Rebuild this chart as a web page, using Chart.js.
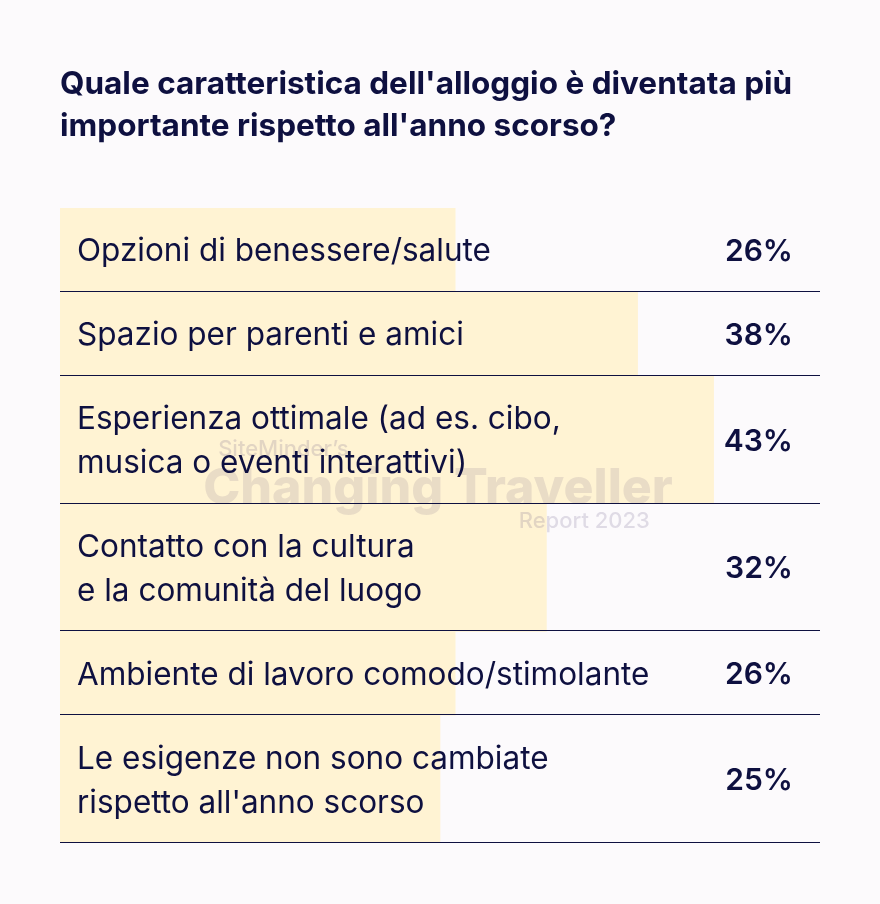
<!DOCTYPE html>
<html>
<head>
<meta charset="utf-8">
<script src="https://cdn.jsdelivr.net/npm/chart.js@4.4.1/dist/chart.umd.min.js"></script>
<style>
  html, body { margin: 0; padding: 0; background: #fcfafc; }
  canvas { display: block; }
</style>
</head>
<body>
<canvas id="chart" width="880" height="904"></canvas>
<script>
// data
const titleLines = [
  "Quale caratteristica dell'alloggio è diventata più",
  "importante rispetto all'anno scorso?",
];
const categories = [
  ["Opzioni di benessere/salute"],
  ["Spazio per parenti e amici"],
  ["Esperienza ottimale (ad es. cibo,", "musica o eventi interattivi)"],
  ["Contatto con la cultura", "e la comunità del luogo"],
  ["Ambiente di lavoro comodo/stimolante"],
  ["Le esigenze non sono cambiate", "rispetto all'anno scorso"],
];
const values = [26, 38, 43, 32, 26, 25];

const NAVY = "#0e1040";
const BAR = "#fff3d3";

// each row is 40px + 44px per text line
const rowHeights = categories.map((c) => 40 + 44 * c.length);
const bounds = [];
let acc = 0;
rowHeights.forEach((h) => { acc += h; bounds.push(acc); });
const total = acc;
const centers = rowHeights.map((h, i) => bounds[i] - h / 2);

const datasets = values.map((v, i) => ({
  label: categories[i].join(" "),
  data: [{ x: v, y: centers[i] }],
  backgroundColor: BAR,
  borderWidth: 0,
  barThickness: rowHeights[i],
  grouped: false,
}));

const rowsPlugin = {
  id: "rows",
  afterDatasetsDraw(chart) {
    const { ctx, chartArea: a, scales } = chart;
    const y = scales.y;
    ctx.save();

    // watermark
    const cx = (a.left + a.right) / 2 - 2;
    const wy = y.getPixelForValue(bounds[2]);
    ctx.textBaseline = "alphabetic";
    ctx.fillStyle = "rgba(85,67,119,0.13)";
    ctx.font = "800 50px Inter";
    ctx.textAlign = "center";
    ctx.fillText("Changing Traveller", cx, wy);
    const ww = ctx.measureText("Changing Traveller").width;
    ctx.fillStyle = "rgba(85,67,119,0.17)";
    ctx.font = "500 22px Inter";
    ctx.textAlign = "left";
    ctx.fillText("SiteMinder’s", cx - ww / 2 + 15, wy - 48);
    ctx.textAlign = "right";
    ctx.fillText("Report 2023", cx + ww / 2 - 23, wy + 24);

    // separators
    ctx.strokeStyle = NAVY;
    ctx.lineWidth = 1.2;
    bounds.forEach((b) => {
      const py = Math.round(y.getPixelForValue(b)) - 0.5;
      ctx.beginPath();
      ctx.moveTo(a.left, py);
      ctx.lineTo(a.right, py);
      ctx.stroke();
    });

    // labels and values
    ctx.fillStyle = NAVY;
    ctx.textBaseline = "middle";
    chart.data.datasets.forEach((ds, i) => {
      const bar = chart.getDatasetMeta(i).data[0];
      const lines = categories[i];
      const lh = 44;
      const top = bar.y - ((lines.length - 1) * lh) / 2 + 2;
      ctx.font = "400 31.5px Inter";
      ctx.textAlign = "left";
      lines.forEach((t, k) => ctx.fillText(t, a.left + 17, top + k * lh));
      ctx.font = "600 30px Inter";
      ctx.textAlign = "right";
      ctx.fillText(values[i] + "%", a.right - 27, bar.y + 2);
    });
    ctx.restore();
  },
};

Chart.defaults.font.family = "Inter";

new Chart(document.getElementById("chart"), {
  type: "bar",
  data: { datasets },
  options: {
    indexAxis: "y",
    responsive: false,
    animation: false,
    layout: { padding: { left: 60, right: 60, top: 0, bottom: 61 } },
    scales: {
      x: { type: "linear", min: 0, max: 50, display: false },
      y: {
        type: "linear", min: 0, max: total, reverse: true, display: false,
        offset: false, grid: { offset: false },
      },
    },
    plugins: {
      legend: { display: false },
      tooltip: { enabled: false },
      title: {
        display: true,
        text: titleLines,
        align: "start",
        color: NAVY,
        font: { size: 31.5, weight: "700", lineHeight: "42px" },
        padding: { top: 64, bottom: 60 },
      },
    },
  },
  plugins: [rowsPlugin],
});
</script>
</body>
</html>
